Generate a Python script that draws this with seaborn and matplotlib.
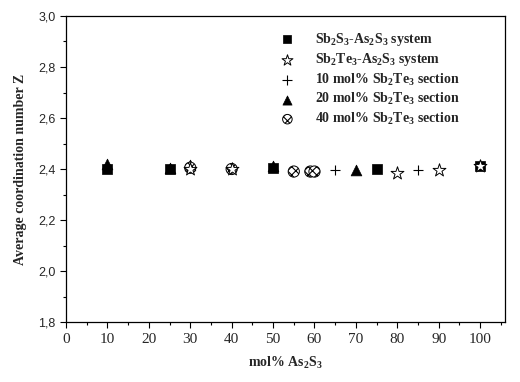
import matplotlib
matplotlib.use("Agg")
import matplotlib.pyplot as plt
import seaborn as sns
import pandas as pd
from matplotlib.ticker import MultipleLocator, FuncFormatter

sns.set_style("ticks")
plt.rcParams['font.family'] = ['Liberation Serif', 'DejaVu Sans']
plt.rcParams['mathtext.default'] = 'regular'
plt.rcParams['hatch.linewidth'] = 0.8

# Data
sq_x = [10, 25, 50, 75, 100]
sq_y = [2.40, 2.40, 2.405, 2.40, 2.41]
star_x = [30, 40, 80, 90, 100]
star_y = [2.40, 2.40, 2.385, 2.395, 2.41]
plus_x = [65, 85]
plus_y = [2.395, 2.395]
tri_x = [10, 25, 30, 50, 70]
tri_y = [2.42, 2.405, 2.415, 2.41, 2.395]
hx_x = [30, 40, 55, 59, 60]
hx_y = [2.405, 2.40, 2.39, 2.39, 2.39]

labels = [r'Sb$_2$S$_3$-As$_2$S$_3$ system',
          r'Sb$_2$Te$_3$-As$_2$S$_3$ system',
          r'10 mol% Sb$_2$Te$_3$ section',
          r'20 mol% Sb$_2$Te$_3$ section',
          r'40 mol% Sb$_2$Te$_3$ section']

fig = plt.figure(figsize=(5.20, 3.82), dpi=100)
ax = fig.add_axes([66/520, 1 - 322/382, (505-66)/520, (322-16)/382])

sns.scatterplot(x=sq_x, y=sq_y, marker='s', color='black', s=45, edgecolor='black', linewidth=0.5, ax=ax, label=labels[0], zorder=3)
sns.scatterplot(x=star_x, y=star_y, marker='*', color='white', s=95, edgecolor='black', linewidth=0.7, ax=ax, label=labels[1], zorder=4)
sns.scatterplot(x=plus_x, y=plus_y, marker='+', color='black', s=60, linewidth=0.8, ax=ax, label=labels[2], zorder=3)
sns.scatterplot(x=tri_x, y=tri_y, marker='^', color='black', s=60, edgecolor='black', linewidth=0.5, ax=ax, label=labels[3], zorder=3)
sns.scatterplot(x=hx_x, y=hx_y, marker='o', color='white', s=65, edgecolor='black', linewidth=0.7, hatch='xxxx', ax=ax, label=labels[4], zorder=3)

ax.set_xlim(0, 106)
ax.set_ylim(1.8, 3.0)
ax.xaxis.set_major_locator(MultipleLocator(10))
ax.xaxis.set_minor_locator(MultipleLocator(5))
ax.yaxis.set_major_locator(MultipleLocator(0.2))
ax.yaxis.set_minor_locator(MultipleLocator(0.1))
ax.yaxis.set_major_formatter(FuncFormatter(lambda v, p: f"{v:.1f}".replace('.', ',')))
ax.tick_params(which='major', direction='out', length=4, width=0.8, color='black')
ax.tick_params(which='minor', direction='out', length=2.5, width=0.8, color='black')
ax.tick_params(axis='x', labelsize=11, pad=4)
for t in ax.get_yticklabels():
    t.set_family('Liberation Sans')
    t.set_fontsize(9)
for s in ax.spines.values():
    s.set_visible(True)
    s.set_linewidth(0.9)
    s.set_color('black')

ax.set_xlabel(r'mol% As$_2$S$_3$', fontsize=10, fontweight='bold', labelpad=6)
ax.set_ylabel('Average coordination number Z', fontsize=10, fontweight='bold', labelpad=8)

leg = ax.legend(loc='upper left', bbox_to_anchor=(0.46, 0.97), frameon=False,
                prop={'family': 'Liberation Serif', 'weight': 'bold', 'size': 10},
                handletextpad=1.0, labelspacing=0.25, borderaxespad=0, markerscale=0.85)

fig.savefig('out.png', dpi=100)
